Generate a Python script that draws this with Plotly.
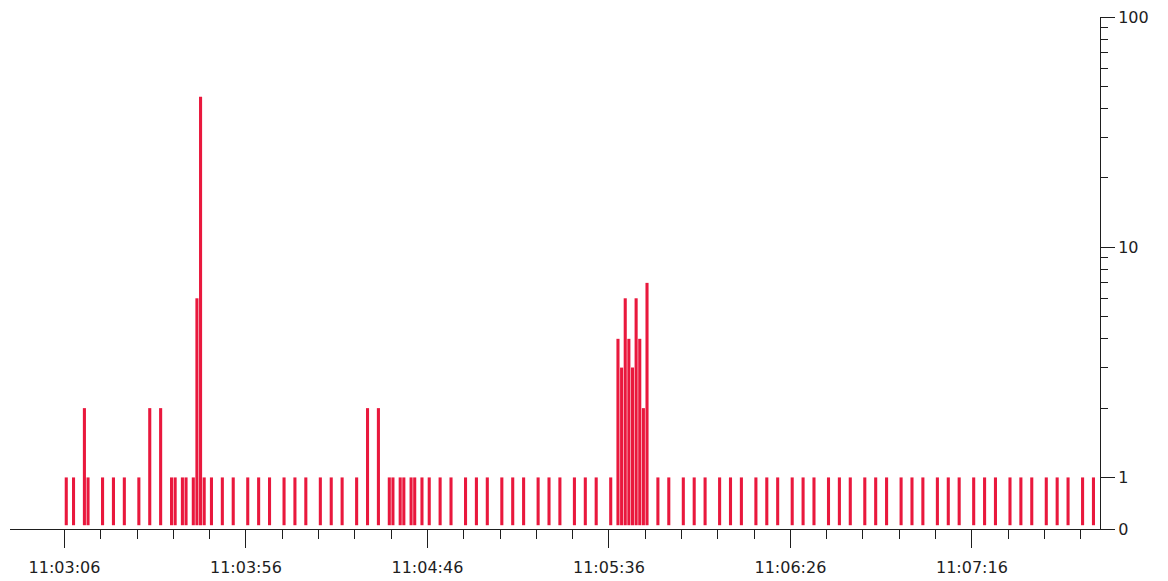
import numpy as np
import pandas as pd
import plotly.graph_objects as go

DATE = "2024-01-01"

times = [
    "11:03:06", "11:03:08", "11:03:11", "11:03:12", "11:03:16", "11:03:19", "11:03:22",
    "11:03:26", "11:03:29", "11:03:32", "11:03:35", "11:03:36", "11:03:38", "11:03:39",
    "11:03:41", "11:03:42", "11:03:43", "11:03:44", "11:03:46", "11:03:49", "11:03:52",
    "11:03:56", "11:03:59", "11:04:02", "11:04:06", "11:04:09", "11:04:12", "11:04:16",
    "11:04:19", "11:04:22", "11:04:26", "11:04:29", "11:04:32", "11:04:35", "11:04:36",
    "11:04:38", "11:04:39", "11:04:41", "11:04:42", "11:04:44", "11:04:46", "11:04:49",
    "11:04:52", "11:04:56", "11:04:59", "11:05:02", "11:05:06", "11:05:09", "11:05:12",
    "11:05:16", "11:05:19", "11:05:22", "11:05:26", "11:05:29", "11:05:32", "11:05:36",
    "11:05:38", "11:05:39", "11:05:40", "11:05:41", "11:05:42", "11:05:43", "11:05:44",
    "11:05:45", "11:05:46", "11:05:49", "11:05:52", "11:05:56", "11:05:59", "11:06:02",
    "11:06:06", "11:06:09", "11:06:12", "11:06:16", "11:06:19", "11:06:22", "11:06:26",
    "11:06:29", "11:06:32", "11:06:36", "11:06:39", "11:06:42", "11:06:46", "11:06:49",
    "11:06:52", "11:06:56", "11:06:59", "11:07:02", "11:07:06", "11:07:09", "11:07:12",
    "11:07:16", "11:07:19", "11:07:22", "11:07:26", "11:07:29", "11:07:32", "11:07:36",
    "11:07:39", "11:07:42", "11:07:46", "11:07:49",
]

counts = [
    1, 1, 2, 1, 1, 1, 1,
    1, 2, 2, 1, 1, 1, 1,
    1, 6, 45, 1, 1, 1, 1,
    1, 1, 1, 1, 1, 1, 1,
    1, 1, 1, 2, 2, 1, 1,
    1, 1, 1, 1, 1, 1, 1,
    1, 1, 1, 1, 1, 1, 1,
    1, 1, 1, 1, 1, 1, 1,
    4, 3, 6, 4, 3, 6, 4,
    2, 7, 1, 1, 1, 1, 1,
    1, 1, 1, 1, 1, 1, 1,
    1, 1, 1, 1, 1, 1, 1,
    1, 1, 1, 1, 1, 1, 1,
    1, 1, 1, 1, 1, 1, 1,
    1, 1, 1, 1,
]

y_tick_text = ["0", "1", "10", "100"]
y_tick_values = [1, 10, 100]
y_minor_values = [2, 3, 4, 5, 6, 7, 8, 9, 20, 30, 40, 50, 60, 70, 80, 90]

x_first_tick = "11:03:06"
x_start = "11:02:51"
x_end = "11:07:51.3"

ZERO_POS = 0.597   # where "0" sits on the log axis (bottom of plot)
BAR_BASE = 0.62    # bars start just above the axis line
RED = "#E9183D"
INK = "#1e1e1e"

x = pd.to_datetime([f"{DATE} {t}" for t in times])
vals = np.array(counts, dtype=float)

fig = go.Figure(
    go.Bar(
        x=x,
        y=vals - BAR_BASE,
        base=BAR_BASE,
        xperiod=1000,
        xperiodalignment="middle",
        width=850,
        marker=dict(color=RED, line=dict(width=0)),
        hovertext=[str(c) for c in counts],
    )
)

t0 = pd.Timestamp(f"{DATE} {x_first_tick}")
t_end = pd.Timestamp(f"{DATE} {x_end}")
minor_x = [t0 + pd.Timedelta(seconds=s) for s in range(10, int((t_end - t0).total_seconds()) + 1, 10) if s % 50]

# page body has an 8px margin, so the figure is sized to fit the window
fig.update_layout(
    width=1160,
    height=573,
    margin=dict(l=2, r=68, t=9, b=52, autoexpand=False),
    plot_bgcolor="white",
    paper_bgcolor="white",
    showlegend=False,
    font=dict(family="DejaVu Sans", size=16, color=INK),
)

fig.update_xaxes(
    type="date",
    range=[f"{DATE} {x_start}", f"{DATE} {x_end}"],
    tickmode="linear",
    tick0=f"{DATE} {x_first_tick}",
    dtick=50000,
    tickformat="%H:%M:%S",
    ticks="outside",
    ticklen=18,
    tickwidth=1,
    tickcolor=INK,
    ticklabelstandoff=6,
    ticklabeloverflow="allow",
    showline=True,
    linecolor=INK,
    linewidth=1,
    showgrid=False,
    zeroline=False,
    minor=dict(tickmode="array", tickvals=minor_x, ticks="outside", ticklen=9, tickcolor=INK, showgrid=False),
)

fig.update_yaxes(
    type="log",
    side="right",
    range=[np.log10(ZERO_POS), 2],
    tickmode="array",
    tickvals=[ZERO_POS] + y_tick_values,
    ticktext=y_tick_text,
    ticks="outside",
    ticklen=14,
    tickwidth=1,
    tickcolor=INK,
    ticklabeloverflow="allow",
    showline=True,
    linecolor=INK,
    linewidth=1,
    showgrid=False,
    zeroline=False,
    minor=dict(tickmode="array", tickvals=y_minor_values, ticks="outside", ticklen=7, tickcolor=INK, showgrid=False),
)

fig.write_html("out.html")
